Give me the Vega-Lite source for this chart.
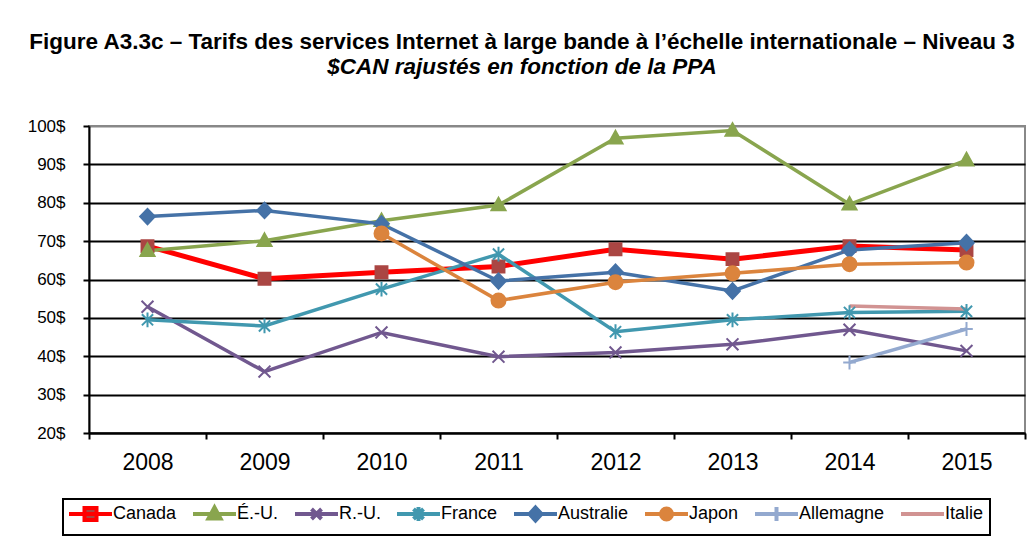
{
  "$schema": "https://vega.github.io/schema/vega-lite/v6.json",
  "width": 936,
  "height": 307,
  "autosize": {"type": "none"},
  "padding": {"left": 89, "top": 126, "right": 9, "bottom": 106},
  "background": "white",
  "title": {
    "text": "Figure A3.3c – Tarifs des services Internet à large bande à l’échelle internationale – Niveau 3",
    "subtitle": "$CAN rajustés en fonction de la PPA",
    "font": "Liberation Sans",
    "subtitleFont": "Liberation Sans",
    "fontSize": 22.5,
    "fontWeight": "bold",
    "subtitleFontSize": 22.5,
    "subtitleFontWeight": "bold",
    "subtitleFontStyle": "italic",
    "color": "black",
    "subtitleColor": "black",
    "anchor": "middle",
    "frame": "group",
    "dx": -35,
    "offset": 39,
    "subtitlePadding": 2
  },
  "data": {
    "values": [
      {"annee": "2008", "pays": "Canada", "valeur": 68.7},
      {"annee": "2009", "pays": "Canada", "valeur": 60.2},
      {"annee": "2010", "pays": "Canada", "valeur": 61.9},
      {"annee": "2011", "pays": "Canada", "valeur": 63.4},
      {"annee": "2012", "pays": "Canada", "valeur": 67.9},
      {"annee": "2013", "pays": "Canada", "valeur": 65.3},
      {"annee": "2014", "pays": "Canada", "valeur": 68.7},
      {"annee": "2015", "pays": "Canada", "valeur": 67.7},
      {"annee": "2008", "pays": "É.-U.", "valeur": 67.5},
      {"annee": "2009", "pays": "É.-U.", "valeur": 70.1},
      {"annee": "2010", "pays": "É.-U.", "valeur": 75.3},
      {"annee": "2011", "pays": "É.-U.", "valeur": 79.4},
      {"annee": "2012", "pays": "É.-U.", "valeur": 96.8},
      {"annee": "2013", "pays": "É.-U.", "valeur": 98.8},
      {"annee": "2014", "pays": "É.-U.", "valeur": 79.6},
      {"annee": "2015", "pays": "É.-U.", "valeur": 91.1},
      {"annee": "2008", "pays": "R.-U.", "valeur": 52.9},
      {"annee": "2009", "pays": "R.-U.", "valeur": 36.0},
      {"annee": "2010", "pays": "R.-U.", "valeur": 46.2},
      {"annee": "2011", "pays": "R.-U.", "valeur": 39.9},
      {"annee": "2012", "pays": "R.-U.", "valeur": 41.0},
      {"annee": "2013", "pays": "R.-U.", "valeur": 43.1},
      {"annee": "2014", "pays": "R.-U.", "valeur": 46.9},
      {"annee": "2015", "pays": "R.-U.", "valeur": 41.4},
      {"annee": "2008", "pays": "France", "valeur": 49.5},
      {"annee": "2009", "pays": "France", "valeur": 47.9},
      {"annee": "2010", "pays": "France", "valeur": 57.5},
      {"annee": "2011", "pays": "France", "valeur": 66.6},
      {"annee": "2012", "pays": "France", "valeur": 46.4},
      {"annee": "2013", "pays": "France", "valeur": 49.5},
      {"annee": "2014", "pays": "France", "valeur": 51.4},
      {"annee": "2015", "pays": "France", "valeur": 51.7},
      {"annee": "2008", "pays": "Australie", "valeur": 76.4},
      {"annee": "2009", "pays": "Australie", "valeur": 78.0},
      {"annee": "2010", "pays": "Australie", "valeur": 74.5},
      {"annee": "2011", "pays": "Australie", "valeur": 59.6},
      {"annee": "2012", "pays": "Australie", "valeur": 61.9},
      {"annee": "2013", "pays": "Australie", "valeur": 57.0},
      {"annee": "2014", "pays": "Australie", "valeur": 67.7},
      {"annee": "2015", "pays": "Australie", "valeur": 69.6},
      {"annee": "2010", "pays": "Japon", "valeur": 72.0},
      {"annee": "2011", "pays": "Japon", "valeur": 54.5},
      {"annee": "2012", "pays": "Japon", "valeur": 59.3},
      {"annee": "2013", "pays": "Japon", "valeur": 61.6},
      {"annee": "2014", "pays": "Japon", "valeur": 64.0},
      {"annee": "2015", "pays": "Japon", "valeur": 64.4},
      {"annee": "2014", "pays": "Allemagne", "valeur": 38.4},
      {"annee": "2015", "pays": "Allemagne", "valeur": 47.1},
      {"annee": "2014", "pays": "Italie", "valeur": 53.1},
      {"annee": "2015", "pays": "Italie", "valeur": 52.3}
    ]
  },
  "encoding": {
    "x": {
      "field": "annee",
      "type": "ordinal",
      "scale": {"type": "band", "paddingInner": 0, "paddingOuter": 0},
      "axis": {
        "title": null,
        "tickBand": "extent",
        "labelAngle": 0,
        "labelFont": "Liberation Sans",
        "labelFontSize": 23,
        "labelColor": "black",
        "labelPadding": 12,
        "domainColor": "black",
        "domainWidth": 2,
        "tickColor": "black",
        "tickWidth": 2,
        "tickSize": 6,
        "grid": false
      }
    },
    "y": {
      "field": "valeur",
      "type": "quantitative",
      "scale": {"domain": [20, 100], "nice": false, "zero": false},
      "axis": {
        "title": null,
        "values": [20, 30, 40, 50, 60, 70, 80, 90, 100],
        "labelExpr": "datum.value + '$'",
        "labelFont": "Liberation Sans",
        "labelFontSize": 17,
        "labelColor": "black",
        "labelPadding": 18,
        "grid": true,
        "gridColor": {"condition": {"test": "datum.value == 100", "value": "#888888"}, "value": "black"},
        "gridWidth": 2,
        "domainColor": "black",
        "domainWidth": 2,
        "tickColor": "black",
        "tickWidth": 2,
        "tickSize": 6
      }
    }
  },
  "layer": [
    {
      "transform": [{"filter": "datum.pays == 'Canada'"}],
      "mark": {"type": "line", "strokeWidth": 5, "color": "#FF0000"},
      "encoding": {}
    },
    {
      "transform": [{"filter": "datum.pays != 'Canada'"}],
      "mark": {"type": "line", "strokeWidth": 3.5},
      "encoding": {
        "color": {
          "field": "pays",
          "type": "nominal",
          "scale": {
            "domain": ["É.-U.", "R.-U.", "France", "Australie", "Japon", "Allemagne", "Italie"],
            "range": ["#89A54E", "#71588F", "#4198AF", "#4572A7", "#DB843D", "#93A9CF", "#D19392"]
          },
          "legend": null
        }
      }
    },
    {
      "mark": {"type": "point", "filled": true, "size": 196, "strokeWidth": 2, "opacity": 1},
      "encoding": {
        "fill": {
          "field": "pays",
          "type": "nominal",
          "scale": {
            "domain": ["Canada", "É.-U.", "R.-U.", "France", "Australie", "Japon", "Allemagne", "Italie"],
            "range": ["#AA4643", "#89A54E", "transparent", "transparent", "#4572A7", "#DB843D", "transparent", "transparent"]
          },
          "legend": null
        },
        "stroke": {
          "field": "pays",
          "type": "nominal",
          "scale": {
            "domain": ["Canada", "É.-U.", "R.-U.", "France", "Australie", "Japon", "Allemagne", "Italie"],
            "range": ["#AA4643", "#89A54E", "#71588F", "#4198AF", "#4572A7", "#DB843D", "#93A9CF", "transparent"]
          },
          "legend": null
        },
        "shape": {
          "field": "pays",
          "type": "nominal",
          "scale": {
            "domain": ["Canada", "É.-U.", "R.-U.", "France", "Australie", "Japon", "Allemagne", "Italie"],
            "range": [
              "M-0.85,-0.85H0.85V0.85H-0.85Z",
              "M0,-1.05L1,0.75H-1Z",
              "M-0.85,-0.85L0.85,0.85M-0.85,0.85L0.85,-0.85",
              "M-0.8,-0.8L0.8,0.8M-0.8,0.8L0.8,-0.8M0,-1.05V1.05",
              "M0,-1.1L1.05,0L0,1.1L-1.05,0Z",
              "M-1,0A1,1,0,1,0,1,0A1,1,0,1,0,-1,0Z",
              "M-0.9,0H0.9M0,-1V1",
              "M0,0Z"
            ]
          },
          "legend": null
        }
      }
    },
    {
      "transform": [{"filter": "false"}],
      "mark": {"type": "point", "filled": true, "opacity": 1},
      "encoding": {
        "fill": {
          "field": "pays",
          "type": "nominal",
          "scale": {
            "domain": ["Canada", "É.-U.", "R.-U.", "France", "Australie", "Japon", "Allemagne", "Italie"],
            "range": ["#AA4643", "#89A54E", "transparent", "transparent", "#4572A7", "#DB843D", "transparent", "transparent"]
          },
          "legend": null
        },
        "stroke": {
          "field": "pays",
          "type": "nominal",
          "scale": {
            "domain": ["Canada", "É.-U.", "R.-U.", "France", "Australie", "Japon", "Allemagne", "Italie"],
            "range": ["#FF0000", "#89A54E", "#71588F", "#4198AF", "#4572A7", "#DB843D", "#93A9CF", "#D19392"]
          },
          "legend": null
        },
        "shape": {
          "field": "pays",
          "type": "nominal",
          "scale": {
            "domain": ["Canada", "É.-U.", "R.-U.", "France", "Australie", "Japon", "Allemagne", "Italie"],
            "range": [
              "M-1.8,-1.4L-1.8,-1.4M-1.8,1.4L-1.8,1.4M-1.8,0H6.8M1.3,-1.2H3.7V1.2H1.3Z",
              "M-1.8,-1.4L-1.8,-1.4M-1.8,1.4L-1.8,1.4M-1.8,0H6.8M2.5,-1.3L3.7,0.9H1.3Z",
              "M-1.8,-1.4L-1.8,-1.4M-1.8,1.4L-1.8,1.4M-1.8,0H6.8M1.5,-1L3.5,1M1.5,1L3.5,-1",
              "M-1.8,-1.4L-1.8,-1.4M-1.8,1.4L-1.8,1.4M-1.8,0H6.8M1.5,-1L3.5,1M1.5,1L3.5,-1M2.5,-1.4V1.4",
              "M-1.8,-1.4L-1.8,-1.4M-1.8,1.4L-1.8,1.4M-1.8,0H6.8M2.5,-1.3L3.7,0L2.5,1.3L1.3,0Z",
              "M-1.8,-1.4L-1.8,-1.4M-1.8,1.4L-1.8,1.4M-1.8,0H6.8M1.4,0A1.1,1.1,0,1,0,3.6,0A1.1,1.1,0,1,0,1.4,0Z",
              "M-1.8,-1.4L-1.8,-1.4M-1.8,1.4L-1.8,1.4M-1.8,0H6.8M2.5,-1.4V1.4",
              "M-1.8,-1.4L-1.8,-1.4M-1.8,1.4L-1.8,1.4M-1.8,0H6.8"
            ]
          },
          "legend": {
            "orient": "none",
            "legendX": -26,
            "legendY": 373,
            "direction": "horizontal",
            "columns": 8,
            "title": null,
            "labelFont": "Liberation Sans",
            "labelFontSize": 18,
            "labelColor": "black",
            "labelOffset": 26,
            "columnPadding": 8,
            "padding": 6,
            "symbolSize": 100,
            "symbolStrokeWidth": 4,
            "symbolOpacity": 1,
            "strokeColor": "black"
          }
        }
      }
    }
  ],
  "resolve": {"scale": {"shape": "independent", "fill": "independent", "stroke": "independent"}},
  "config": {
    "font": "Liberation Sans",
    "view": {"stroke": "#888888", "strokeWidth": 2},
    "legend": {"strokeWidth": 2}
  }
}
